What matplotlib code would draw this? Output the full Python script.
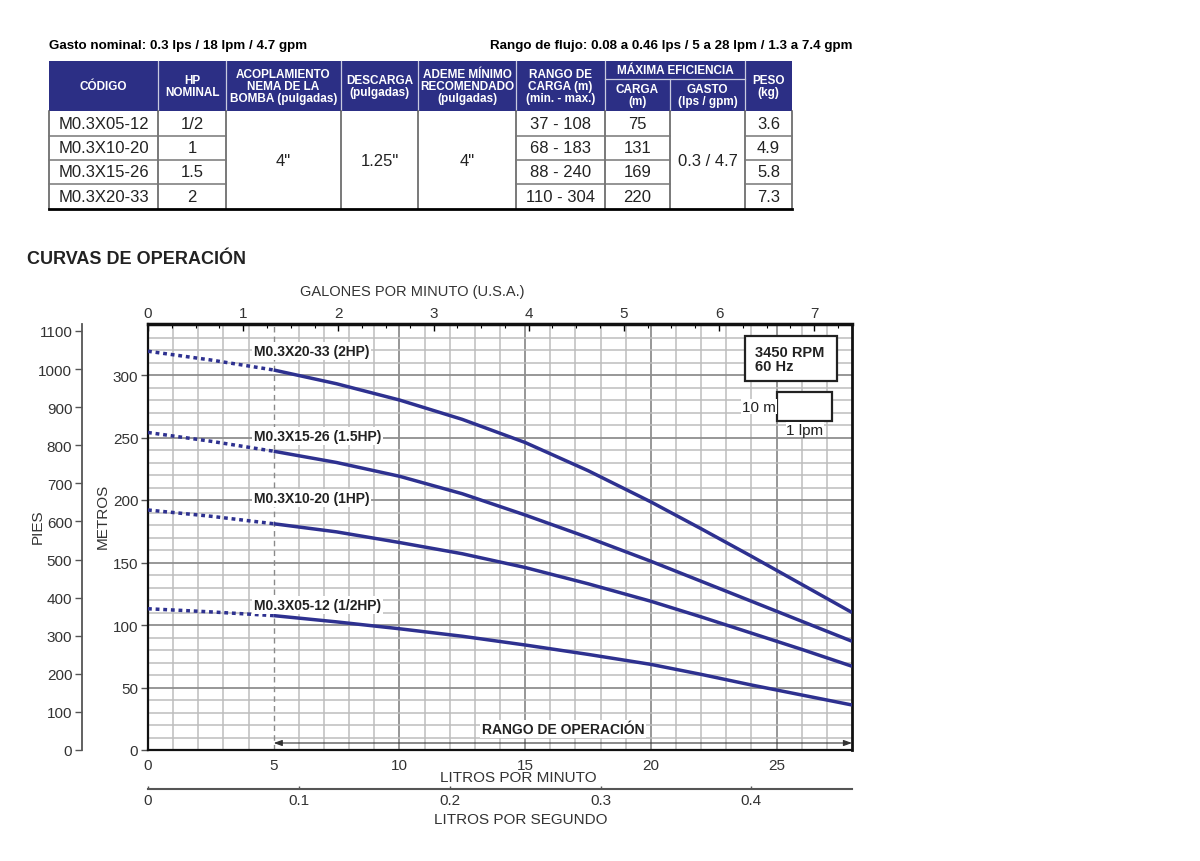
import matplotlib
matplotlib.use("Agg")
import matplotlib.pyplot as plt
from matplotlib.patches import Rectangle
from matplotlib.ticker import MultipleLocator, FixedLocator, FormatStrFormatter

plt.rcParams["font.family"] = ["Liberation Sans", "DejaVu Sans"]

NAVY = "#2e3190"
HEADER_BG = "#2c2f85"

# ---- datos de la tabla ----
codigos = ["M0.3X05-12", "M0.3X10-20", "M0.3X15-26", "M0.3X20-33"]
hp_nominal = ["1/2", "1", "1.5", "2"]
acoplamiento = '4"'
descarga = '1.25"'
ademe = '4"'
rango_carga = ["37 - 108", "68 - 183", "88 - 240", "110 - 304"]
carga_max = ["75", "131", "169", "220"]
gasto_max = "0.3 / 4.7"
peso = ["3.6", "4.9", "5.8", "7.3"]

# ---- curvas (lpm vs metros) ----
lpm = [0, 2.5, 5, 7.5, 10, 12.5, 15, 17.5, 20, 22, 24, 26, 28]
carga_2hp = [319, 312, 304, 293, 280, 264.5, 246, 223.5, 198.5, 177, 155, 132.5, 110]
carga_15hp = [254, 247, 239, 230, 219, 205, 188, 170, 151, 135, 119, 103, 87]
carga_1hp = [192, 187, 181, 174.5, 166, 157, 146, 133, 119, 106.5, 93.5, 80.5, 67]
carga_05hp = [113, 110.5, 107.5, 102.5, 97, 91, 84, 76.5, 68.5, 60.5, 52, 44, 36]
etiquetas = ["M0.3X20-33 (2HP)", "M0.3X15-26 (1.5HP)", "M0.3X10-20 (1HP)", "M0.3X05-12 (1/2HP)"]
etiqueta_y = [319, 251, 201.5, 116]
_I_MIN = 2  # índice de 5 lpm: inicio del rango de operación

fig = plt.figure(figsize=(12, 8.62), dpi=100)
page = fig.add_axes([0, 0, 1, 1])
page.set_xlim(0, 1200)
page.set_ylim(862, 0)
page.axis("off")

page.text(49, 46, "Gasto nominal: 0.3 lps / 18 lpm / 4.7 gpm", fontsize=9.6,
          fontweight="bold", va="center")
page.text(852, 46, "Rango de flujo: 0.08 a 0.46 lps / 5 a 28 lpm / 1.3 a 7.4 gpm",
          fontsize=9.6, fontweight="bold", va="center", ha="right")

# ---- tabla ----
col_x = [49, 158, 226, 341, 418, 516, 605, 670, 745, 792]
head_top, head_bot, sub_y = 62, 112, 80
row_y = [112, 136.5, 160.5, 184.5, 210]
page.add_patch(Rectangle((col_x[0], head_top), col_x[-1] - col_x[0], head_bot - head_top,
                         facecolor=HEADER_BG, edgecolor="none"))
for x in col_x[1:-1]:
    top = sub_y if x == 670 else head_top
    page.plot([x, x], [top, head_bot], color="#c9cadf", lw=0.9)
page.plot([605, 745], [sub_y, sub_y], color="#c9cadf", lw=0.9)

hdr = dict(color="white", fontsize=8.5, fontweight="bold", ha="center", va="center",
           linespacing=1.05)
mid = (head_top + head_bot) / 2
headers = ["CÓDIGO", "HP\nNOMINAL", "ACOPLAMIENTO\nNEMA DE LA\nBOMBA (pulgadas)",
           "DESCARGA\n(pulgadas)", "ADEME MÍNIMO\nRECOMENDADO\n(pulgadas)",
           "RANGO DE\nCARGA (m)\n(min. - max.)"]
for i, h in enumerate(headers):
    page.text((col_x[i] + col_x[i + 1]) / 2, mid, h, **hdr)
page.text((605 + 745) / 2, 71, "MÁXIMA EFICIENCIA", **hdr)
page.text((605 + 670) / 2, 96, "CARGA\n(m)", **hdr)
page.text((670 + 745) / 2, 96, "GASTO\n(lps / gpm)", **hdr)
page.text((745 + 792) / 2, mid, "PESO\n(kg)", **hdr)

for x in col_x:
    page.plot([x, x], [row_y[0], row_y[-1]], color="#555555", lw=1.1)
for ci in [0, 1, 5, 6, 8]:
    for y in row_y[1:-1]:
        page.plot([col_x[ci], col_x[ci + 1]], [y, y], color="#777777", lw=1.1)
page.plot([col_x[0], col_x[-1]], [row_y[-1], row_y[-1]], color="black", lw=2)

body = dict(fontsize=12, ha="center", va="center", color="#222222")
for r in range(4):
    yc = (row_y[r] + row_y[r + 1]) / 2
    for ci, vals in [(0, codigos), (1, hp_nominal), (5, rango_carga), (6, carga_max), (8, peso)]:
        page.text((col_x[ci] + col_x[ci + 1]) / 2, yc, vals[r], **body)
yc_all = (row_y[0] + row_y[-1]) / 2
for ci, v in [(2, acoplamiento), (3, descarga), (4, ademe), (7, gasto_max)]:
    page.text((col_x[ci] + col_x[ci + 1]) / 2, yc_all, v, **body)

page.text(27, 260, "CURVAS DE OPERACIÓN", fontsize=13, fontweight="bold",
          va="center", color="#222222")

# ---- gráfica ----
ax = fig.add_axes([148 / 1200, 1 - 751 / 862, 704 / 1200, 426 / 862])
ax.set_xlim(0, 28)
ax.set_ylim(0, 340.8)

for x in range(1, 28):
    if x == 5:
        continue
    major = x % 5 == 0
    ax.axvline(x, color="#8f8f8f" if major else "#bdbdbd", lw=1.3 if major else 1.1, zorder=0)
for y in range(10, 341, 10):
    major = y % 50 == 0
    ax.axhline(y, color="#8f8f8f" if major else "#bdbdbd", lw=1.3 if major else 1.1, zorder=0)
ax.axvline(5, color="#8a8a8a", lw=1.0, dashes=(4, 3), zorder=1)

for carga, lab, ly in zip([carga_2hp, carga_15hp, carga_1hp, carga_05hp], etiquetas, etiqueta_y):
    ax.plot(lpm[:_I_MIN + 1], carga[:_I_MIN + 1], color=NAVY, lw=2.5,
            dashes=(1.1, 1.1), dash_capstyle="butt", zorder=3)
    ax.plot(lpm[_I_MIN:], carga[_I_MIN:], color=NAVY, lw=2.5, solid_capstyle="butt",
            solid_joinstyle="round", zorder=3)
    ax.text(4.2, ly, lab, fontsize=10, fontweight="bold", va="center", ha="left",
            color="#222222", bbox=dict(facecolor="white", edgecolor="none", pad=1.5), zorder=4)

# rango de operación
ax.annotate("", xy=(28, 5.6), xytext=(5, 5.6),
            arrowprops=dict(arrowstyle="<|-|>,head_length=0.5,head_width=0.18",
                            color="#333333", lw=0.8, shrinkA=0, shrinkB=0), zorder=4)
ax.text(16.5, 16.5, "RANGO DE OPERACIÓN", fontsize=10, fontweight="bold",
        ha="center", va="center", color="#222222",
        bbox=dict(facecolor="white", edgecolor="none", pad=1.5), zorder=4)

# cuadros de referencia
ax.add_patch(Rectangle((0.848, 0.866), 0.131, 0.106, transform=ax.transAxes,
                       facecolor="white", edgecolor="#222222", lw=1.6, zorder=5))
ax.text(0.862, 0.919, "3450 RPM\n60 Hz", transform=ax.transAxes, fontsize=10.5,
        fontweight="bold", va="center", linespacing=1.0, color="#222222", zorder=6)
ax.add_patch(Rectangle((0.894, 0.772), 0.078, 0.068, transform=ax.transAxes,
                       facecolor="white", edgecolor="#222222", lw=1.6, zorder=5))
ax.text(0.892, 0.806, "10 m", transform=ax.transAxes, fontsize=11, ha="right",
        va="center", color="#222222", zorder=6,
        bbox=dict(facecolor="white", edgecolor="none", pad=0.5))
ax.text(0.933, 0.752, "1 lpm", transform=ax.transAxes, fontsize=11, ha="center",
        va="center", color="#222222", zorder=6,
        bbox=dict(facecolor="white", edgecolor="none", pad=0.5))

for side in ["left", "bottom", "right"]:
    ax.spines[side].set_color("#111111")
    ax.spines[side].set_linewidth(1.6)
ax.spines["right"].set_linewidth(2)
ax.spines["top"].set_visible(False)

ax.xaxis.set_major_locator(FixedLocator([0, 5, 10, 15, 20, 25]))
ax.yaxis.set_major_locator(MultipleLocator(50))
ax.tick_params(axis="x", length=0, pad=6, labelsize=11, labelcolor="#333333")
ax.tick_params(axis="y", length=5, width=1, direction="out", pad=2, labelsize=11,
               labelcolor="#333333", color="#555555")
ax.set_xlabel("LITROS POR MINUTO", fontsize=11, color="#333333")
ax.xaxis.set_label_coords(0.526, -0.048)
ax.text(-0.064, 0.55, "METROS", transform=ax.transAxes, rotation=90, fontsize=11,
        ha="center", va="center", color="#333333")

# galones por minuto (arriba)
gpm = ax.secondary_xaxis("top", functions=(lambda x: x / 3.78541, lambda g: g * 3.78541))
gpm.xaxis.set_major_locator(FixedLocator(range(0, 8)))
gpm.xaxis.set_minor_locator(MultipleLocator(0.25))
gpm.spines["top"].set_linewidth(2.5)
gpm.spines["top"].set_color("#111111")
gpm.tick_params(which="major", direction="in", length=5, width=1, pad=3, labelsize=11,
                labelcolor="#333333")
gpm.tick_params(which="minor", direction="in", length=3, width=0.8)
ax.text(0.375, 1.077, "GALONES POR MINUTO (U.S.A.)", transform=ax.transAxes,
        fontsize=10.5, ha="center", va="center", color="#333333")

# litros por segundo (abajo)
lps = ax.secondary_xaxis(-0.0915, functions=(lambda x: x / 60, lambda s: s * 60))
lps.xaxis.set_major_locator(FixedLocator([0, 0.1, 0.2, 0.3, 0.4]))
lps.xaxis.set_major_formatter(FormatStrFormatter("%g"))
lps.spines["bottom"].set_color("#555555")
lps.spines["bottom"].set_linewidth(1.5)
lps.tick_params(direction="in", length=2.5, width=1, color="#555555", pad=3, labelsize=11,
                labelcolor="#333333")
ax.text(0.53, -0.162, "LITROS POR SEGUNDO", transform=ax.transAxes, fontsize=11,
        ha="center", va="center", color="#333333")

# pies (izquierda)
pies = ax.secondary_yaxis(-0.09375, functions=(lambda m: m * 3.28084, lambda f: f / 3.28084))
pies.yaxis.set_major_locator(MultipleLocator(100))
pies.spines["left"].set_color("#555555")
pies.spines["left"].set_linewidth(1.3)
pies.tick_params(direction="out", length=5, width=1, color="#555555", pad=2, labelsize=11,
                 labelcolor="#333333")
ax.text(-0.156, 0.526, "PIES", transform=ax.transAxes, rotation=90, fontsize=11,
        ha="center", va="center", color="#333333")

fig.savefig("out.png", dpi=100)
